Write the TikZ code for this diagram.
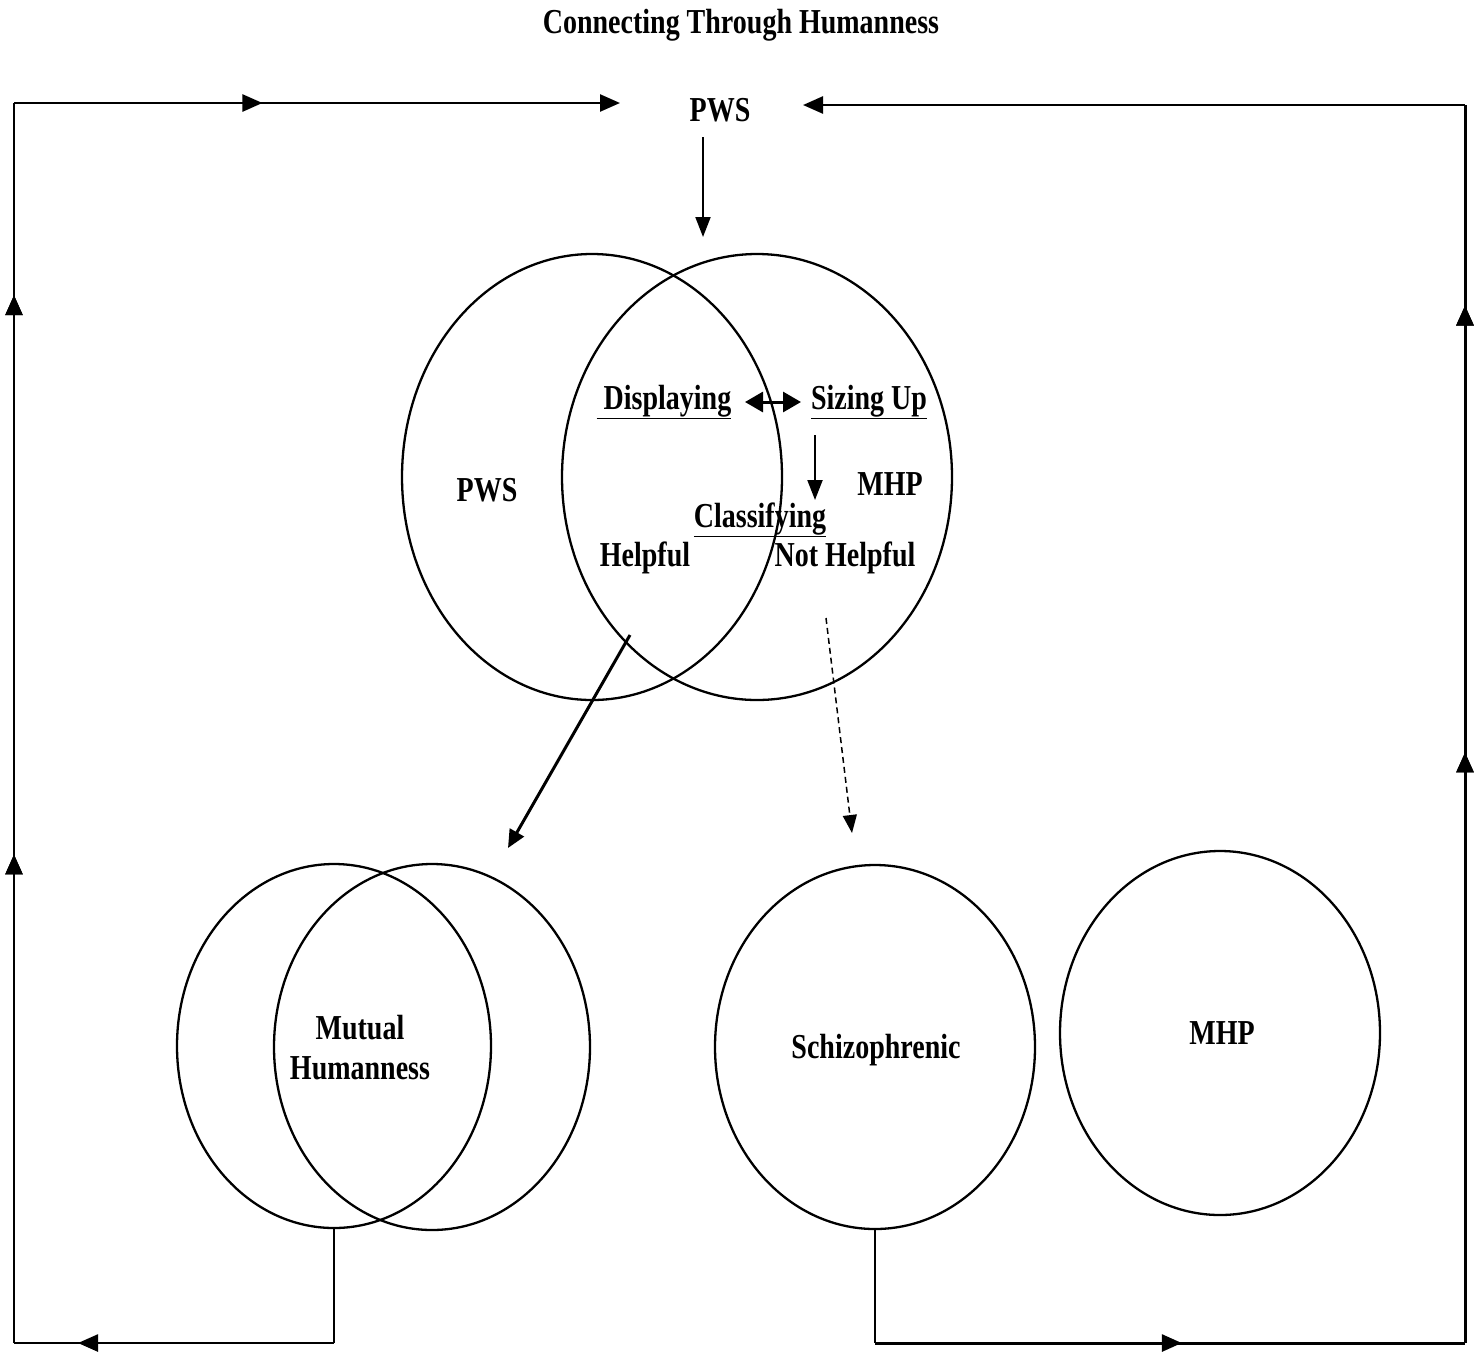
\documentclass[tikz,border=0pt]{standalone}
\usepackage{fontspec}
\setmainfont[FakeStretch=0.8]{Liberation Serif}
\usetikzlibrary{arrows.meta,decorations.markings,shapes.geometric}
\begin{document}
\begin{tikzpicture}[x=1pt,y=-1pt,
  lbl/.style={font=\fontsize{35}{40}\selectfont\bfseries, inner sep=0pt},
  ring/.style={ellipse, draw, line width=2.3pt, inner sep=0pt},
  loopline/.style={line width=2.5pt},
  tipA/.style={-{Triangle[length=20pt,width=17pt]}},
  midarrow/.style={postaction={decorate},
    decoration={markings, mark=at position #1 with {\arrow{Triangle[length=20pt,width=17pt]}}}}
]
\useasboundingbox (0,0) rectangle (1477,1353);

% ellipses
\node[ring, minimum width=380pt, minimum height=446pt] (TL) at (592,477) {};
\node[ring, minimum width=390pt, minimum height=446pt] (TR) at (757,477) {};
\node[ring, minimum width=314pt, minimum height=364pt] (BL1) at (334,1046) {};
\node[ring, minimum width=316pt, minimum height=366pt] (BL2) at (432,1047) {};
\node[ring, minimum width=320pt, minimum height=364pt] (SC) at (875,1047) {};
\node[ring, minimum width=320pt, minimum height=364pt] (MH) at (1220,1033) {};

% texts
\node[lbl] (title) at (741,25) {Connecting Through Humanness};
\node[lbl] (pwstop) at (720,110) {PWS};
\node[lbl] (pws) at (487,490) {PWS};
\node[lbl] (mhp) at (890,484) {MHP};
\node[lbl] (disp) at (664,402) {\underline{~Displaying}};
\node[lbl] (size) at (869,402) {\underline{Sizing Up}};
\node[lbl] (class) at (760,520) {\underline{Classifying}};
\node[lbl] (help) at (645,558) {Helpful};
\node[lbl] (nothelp) at (845,558) {Not Helpful};
\node[lbl, align=center] (mutual) at (360,1048) {Mutual\\Humanness};
\node[lbl] (schizo) at (876,1050) {Schizophrenic};
\node[lbl] (mhp2) at (1222,1033) {MHP};

% coordinates
\coordinate (pwsL) at (620,103);
\coordinate (pwsR) at (803,105);
\coordinate (tl) at (14,103);
\coordinate (bl) at (14,1343);
\coordinate (blm) at (BL1.south |- 0,1343);
\coordinate (brm) at (SC.south |- 0,1343);
\coordinate (br) at (1465,1343);
\coordinate (tr) at (1465,105);
\coordinate (downS) at (703,137);
\coordinate (downE) at (703,237);
\coordinate (dblS) at (745,402);
\coordinate (dblE) at (801,402);
\coordinate (clS) at (815,435);
\coordinate (clE) at (815,500);
\coordinate (hS) at (630,635);
\coordinate (hE) at (508,848);
\coordinate (nS) at (826,618);
\coordinate (nE) at (852,833);

% outer loop
\draw[line width=2pt] (BL1.south) -- (blm);
\draw[loopline, midarrow=0.8] (blm) -- (bl);
\draw[loopline, midarrow=0.394, midarrow=0.845] (bl) -- (tl);
\draw[loopline, midarrow=0.41, tipA] (tl) -- (pwsL);
\draw[line width=2pt] (SC.south) -- (brm);
\draw[line width=3pt, midarrow=0.52] (brm) -- (br);
\draw[line width=3pt, midarrow=0.477, midarrow=0.838] (br) -- (tr);
\draw[loopline, tipA] (tr) -- (pwsR);

% inner arrows
\draw[line width=2pt, -{Triangle[length=20pt,width=15pt]}] (downS) -- (downE);
\draw[line width=3pt, {Triangle[length=18pt,width=20pt]}-{Triangle[length=18pt,width=20pt]}] (dblS) -- (dblE);
\draw[line width=2pt, -{Triangle[length=20pt,width=15pt]}] (clS) -- (clE);
\draw[line width=3pt, -{Triangle[length=18pt,width=16pt]}] (hS) -- (hE);
\draw[line width=1.5pt, dash pattern=on 6pt off 4pt, -{Triangle[length=18pt,width=14pt]}] (nS) -- (nE);
\end{tikzpicture}
\end{document}
